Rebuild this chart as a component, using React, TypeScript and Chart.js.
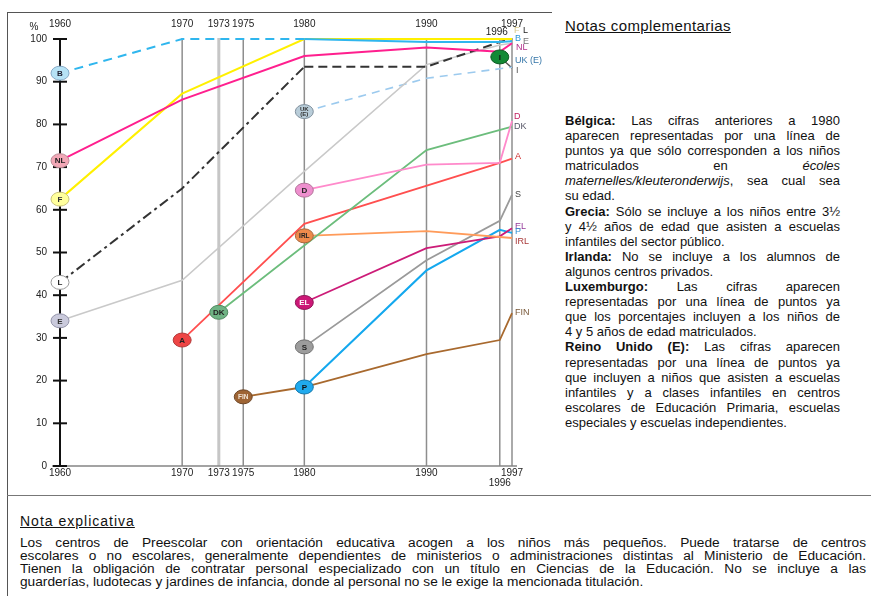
import React, { useEffect, useRef } from "react";
import { Chart, registerables } from "chart.js";

Chart.register(...registerables);

// ---------- data ----------
const years = [1960, 1970, 1973, 1975, 1980, 1990, 1996, 1997];
const guideYears = [1970, 1973, 1975, 1980, 1990, 1996, 1997];
const topYearLabels = [1960, 1970, 1973, 1975, 1980, 1990, 1997];
const bottomYearLabels = [1960, 1970, 1973, 1975, 1980, 1990, 1997];
const lowerYearLabel = 1996;
const yTicks = [0, 10, 20, 30, 40, 50, 60, 70, 80, 90, 100];

const countries = ["B", "NL", "F", "L", "E", "UK(E)", "I", "D", "DK", "A", "IRL", "EL", "S", "P", "FIN"];
const endLabels = ["B", "NL", "F", "L", "E", "UK (E)", "I", "D", "DK", "A", "IRL", "EL", "S", "P", "FIN"];
const endLabelValues = [100.2, 97.9, 102, 102, 99.3, 95, 92.7, 81.8, 79.6, 72.5, 52.6, 56, 63.5, 54.8, 36];

const valB = [92, 100, null, null, 100, 99.3, 99.3, 99.5];
const valNL = [71.5, 85.8, null, null, 96, 98, 97, 99];
const valF = [62.5, 87.2, null, null, 100, 100, 100, 100];
const valL = [43, 65, null, null, 93.5, 93.5, 99.3, 100];
const valE = [34, 43.5, null, null, 69, 94, 98.6, 99];
const valUK = [null, null, null, null, 83, 90.8, null, 93.4];
const valI = [null, null, null, null, null, null, 95.8, 93.2];
const valD = [null, null, null, null, 64.6, 70.6, 71, 80.8];
const valDK = [null, null, 36, null, null, 74, null, 79.5];
const valA = [null, 29.5, null, null, 56.7, null, 71, 72];
const valIRL = [null, null, null, null, 53.9, 55, null, 53.4];
const valEL = [null, null, null, null, 38.3, 51, 53.8, 55.7];
const valS = [null, null, null, null, 27.9, 48.2, 57.4, 63.5];
const valP = [null, null, null, null, 18.5, 45.8, 55.3, 54.6];
const valFIN = [null, null, null, 16.2, 18.5, 26.2, 29.5, 35.8];

const seriesValues = [valB, valNL, valF, valL, valE, valUK, valI, valD, valDK, valA, valIRL, valEL, valS, valP, valFIN];

// ---------- styles ----------
type Sty = { line: string; width: number; dash?: number[]; dashAfter?: number[]; dashUntil?: number; fill: string; ring: string; text: string; label: string; lx: number };
const styles: Record<string, Sty> = {
  B: { line: "#2fb6ee", width: 2, dash: [9, 6], dashAfter: [], dashUntil: 1980, fill: "#b6e2f5", ring: "#86a9c6", text: "#223", label: "#2a96d6", lx: 3 },
  NL: { line: "#ff1f8e", width: 2, fill: "#f2a7b6", ring: "#b98a95", text: "#222", label: "#b0308a", lx: 4 },
  F: { line: "#fff000", width: 2, fill: "#ffff9c", ring: "#c8c27a", text: "#333", label: "#d8c98a", lx: 2 },
  L: { line: "#333333", width: 2, dash: [10, 4, 3, 4], dashAfter: [9, 5], dashUntil: 1980, fill: "#ffffff", ring: "#9a9a9a", text: "#222", label: "#222", lx: 11 },
  E: { line: "#c9c9c9", width: 1.5, fill: "#cacadc", ring: "#9292a8", text: "#333", label: "#777", lx: 11 },
  "UK(E)": { line: "#9ccaee", width: 1.6, dash: [8, 6], fill: "#b9cdd9", ring: "#7f8f9c", text: "#333", label: "#3576a8", lx: 3 },
  I: { line: "#555555", width: 1.5, fill: "#128a36", ring: "#0d5a24", text: "#111", label: "#555", lx: 4 },
  D: { line: "#ff8acb", width: 1.8, fill: "#ee8fce", ring: "#b27399", text: "#222", label: "#c22060", lx: 2 },
  DK: { line: "#6cbd7c", width: 1.8, fill: "#6fb384", ring: "#4f8a60", text: "#222", label: "#556", lx: 2 },
  A: { line: "#ff4f4f", width: 1.8, fill: "#ee4545", ring: "#b23a3a", text: "#222", label: "#cc2a2a", lx: 3 },
  IRL: { line: "#ff9b5a", width: 1.8, fill: "#ee8a4c", ring: "#a8663a", text: "#222", label: "#a83838", lx: 3 },
  EL: { line: "#cc1c78", width: 1.8, fill: "#cc1877", ring: "#8f1556", text: "#fff", label: "#953a9a", lx: 3 },
  S: { line: "#9a9a9a", width: 1.8, fill: "#9c9c9c", ring: "#707070", text: "#222", label: "#444", lx: 3 },
  P: { line: "#14a8ee", width: 2, fill: "#20aaee", ring: "#1577aa", text: "#111", label: "#2f8fd0", lx: 3 },
  FIN: { line: "#a8692e", width: 1.8, fill: "#9e6434", ring: "#6d4524", text: "#f3e6d8", label: "#7a5a3a", lx: 3 },
};

const overlayPlugin = {
  id: "overlay",
  beforeDatasetsDraw(chart: any) {
    const { ctx, scales } = chart;
    const x = scales.x;
    const y = scales.y;
    const top = y.getPixelForValue(100);
    const y0 = y.getPixelForValue(0);
    ctx.save();
    guideYears.forEach((yr) => {
      const px = x.getPixelForValue(yr);
      ctx.strokeStyle = yr === 1973 ? "#c6c6c6" : "#8e8e8e";
      ctx.lineWidth = yr === 1973 ? 3 : 1.5;
      ctx.beginPath();
      ctx.moveTo(px, top - 1);
      ctx.lineTo(px, y0);
      ctx.stroke();
    });
    const x0 = x.getPixelForValue(1960);
    ctx.strokeStyle = "#858585";
    ctx.lineWidth = 1.5;
    ctx.beginPath();
    ctx.moveTo(x0 - 8, y0);
    ctx.lineTo(x.getPixelForValue(1997) + 5, y0);
    ctx.stroke();
    ctx.strokeStyle = "#111";
    ctx.lineWidth = 2;
    ctx.beginPath();
    ctx.moveTo(x0, top);
    ctx.lineTo(x0, y0);
    ctx.stroke();
    yTicks.forEach((v) => {
      const py = y.getPixelForValue(v);
      ctx.beginPath();
      ctx.moveTo(x0 - 7, py);
      ctx.lineTo(x0 + 7, py);
      ctx.stroke();
    });
    ctx.restore();
  },
  afterDatasetsDraw(chart: any) {
    const { ctx, scales } = chart;
    const x = scales.x;
    const y = scales.y;
    ctx.save();
    // markers
    countries.forEach((c, i) => {
      const vals = seriesValues[i];
      const idx = vals.findIndex((v) => v !== null);
      const el = chart.getDatasetMeta(i).data[idx];
      const s = styles[c];
      ctx.beginPath();
      ctx.ellipse(el.x, el.y, 9, 7, 0, 0, Math.PI * 2);
      ctx.fillStyle = s.fill;
      ctx.fill();
      ctx.strokeStyle = s.ring;
      ctx.lineWidth = 1;
      ctx.stroke();
      ctx.fillStyle = s.text;
      ctx.textAlign = "center";
      ctx.textBaseline = "middle";
      if (c === "UK(E)") {
        ctx.font = "bold 6px 'Liberation Sans', Arial, sans-serif";
        ctx.fillText("UK", el.x, el.y - 2.5);
        ctx.fillText("(E)", el.x, el.y + 3);
      } else {
        ctx.font = `bold ${c.length > 2 ? 6.5 : 8}px 'Liberation Sans', Arial, sans-serif`;
        ctx.fillText(c, el.x, el.y + 0.5);
      }
    });
    // end labels at 1997
    const xe = x.getPixelForValue(1997);
    ctx.textAlign = "left";
    ctx.textBaseline = "middle";
    ctx.font = "9px 'Liberation Sans', Arial, sans-serif";
    countries.forEach((c, i) => {
      const s = styles[c];
      ctx.fillStyle = s.label;
      ctx.fillText(endLabels[i], xe + s.lx, y.getPixelForValue(endLabelValues[i]));
    });
    // y tick labels
    const x0 = x.getPixelForValue(1960);
    ctx.fillStyle = "#222";
    ctx.font = "10px 'Liberation Sans', Arial, sans-serif";
    ctx.textAlign = "right";
    yTicks.forEach((v) => {
      ctx.fillText(String(v), x0 - 13, y.getPixelForValue(v));
    });
    ctx.textAlign = "center";
    ctx.fillText("%", x0 - 26, y.getPixelForValue(100) - 12);
    // year labels
    const topY = y.getPixelForValue(100) - 15;
    topYearLabels.forEach((yr) => ctx.fillText(String(yr), x.getPixelForValue(yr), topY));
    ctx.fillText(String(lowerYearLabel), x.getPixelForValue(lowerYearLabel) - 3, topY + 8);
    const botY = y.getPixelForValue(0) + 7;
    bottomYearLabels.forEach((yr) => ctx.fillText(String(yr), x.getPixelForValue(yr), botY));
    ctx.fillText(String(lowerYearLabel), x.getPixelForValue(lowerYearLabel), botY + 10);
    ctx.restore();
  },
};

const rightNotes: { parts: [string, string][]; just: boolean }[] = [
  { parts: [["b", "Bélgica:"], ["n", " Las cifras anteriores a 1980"]], just: true },
  { parts: [["n", "aparecen representadas por una línea de"]], just: true },
  { parts: [["n", "puntos ya que sólo corresponden a los niños"]], just: true },
  { parts: [["n", "matriculados en "], ["i", "écoles"]], just: true },
  { parts: [["i", "maternelles/kleuteronderwijs"], ["n", ", sea cual sea"]], just: true },
  { parts: [["n", "su edad."]], just: false },
  { parts: [["b", "Grecia:"], ["n", " Sólo se incluye a los niños entre 3½"]], just: true },
  { parts: [["n", "y 4½ años de edad que asisten a escuelas"]], just: true },
  { parts: [["n", "infantiles del sector público."]], just: false },
  { parts: [["b", "Irlanda:"], ["n", " No se incluye a los alumnos de"]], just: true },
  { parts: [["n", "algunos centros privados."]], just: false },
  { parts: [["b", "Luxemburgo:"], ["n", " Las cifras aparecen"]], just: true },
  { parts: [["n", "representadas por una línea de puntos ya"]], just: true },
  { parts: [["n", "que los porcentajes incluyen a los niños de"]], just: true },
  { parts: [["n", "4 y 5 años de edad matriculados."]], just: false },
  { parts: [["b", "Reino Unido (E):"], ["n", " Las cifras aparecen"]], just: true },
  { parts: [["n", "representadas por una línea de puntos ya"]], just: true },
  { parts: [["n", "que incluyen a niños que asisten a escuelas"]], just: true },
  { parts: [["n", "infantiles y a clases infantiles en centros"]], just: true },
  { parts: [["n", "escolares de Educación Primaria, escuelas"]], just: true },
  { parts: [["n", "especiales y escuelas independientes."]], just: false },
];

const bottomNotes = [
  "Los centros de Preescolar con orientación educativa acogen a los niños más pequeños. Puede tratarse de centros",
  "escolares o no escolares, generalmente dependientes de ministerios o administraciones distintas al Ministerio de Educación.",
  "Tienen la obligación de contratar personal especializado con un título en Ciencias de la Educación. No se incluye a las",
  "guarderías, ludotecas y jardines de infancia, donde al personal no se le exige la mencionada titulación.",
];

export default function App() {
  const canvasRef = useRef<HTMLCanvasElement | null>(null);

  useEffect(() => {
    const canvas = canvasRef.current;
    if (!canvas) return;
    const datasets = countries.map((c, i) => {
      const s = styles[c];
      const vals = seriesValues[i];
      const ds: any = {
        label: c,
        data: years.map((yr, k) => ({ x: yr, y: vals[k] })),
        borderColor: s.line,
        borderWidth: s.width,
        pointRadius: 0,
        pointHoverRadius: 0,
        spanGaps: true,
        fill: false,
        tension: 0,
        clip: false,
      };
      if (s.dash && s.dashUntil) {
        const d = s.dash;
        const after = s.dashAfter || [];
        const until = s.dashUntil;
        ds.segment = { borderDash: (ctx: any) => (ctx.p1.parsed.x <= until ? d : after) };
      } else if (s.dash) {
        ds.borderDash = s.dash;
      }
      return ds;
    });
    const chart = new Chart(canvas, {
      type: "line",
      data: { datasets },
      options: {
        animation: false,
        responsive: false,
        events: [],
        layout: { padding: { left: 60, right: 48, top: 39, bottom: 34 } },
        plugins: { legend: { display: false }, tooltip: { enabled: false } },
        scales: {
          x: { type: "linear", min: 1960, max: 1997, display: false },
          y: { type: "linear", min: 0, max: 100, display: false },
        },
      },
      plugins: [overlayPlugin],
    } as any);
    return () => chart.destroy();
  }, []);

  const font = "'Liberation Sans', Arial, sans-serif";
  return (
    <div style={{ position: "absolute", left: 0, top: 0, width: 871, height: 596, background: "#fff", overflow: "hidden", fontFamily: font, color: "#111" }}>
      <canvas ref={canvasRef} width={560} height={500} style={{ position: "absolute", left: 0, top: 0, width: 560, height: 500 }} />
      <div style={{ position: "absolute", left: 7, top: 12, width: 545, height: 0, borderTop: "1px solid #555" }} />
      <div style={{ position: "absolute", left: 7, top: 12, width: 0, height: 590, borderLeft: "1px solid #555" }} />
      <div style={{ position: "absolute", left: 7, top: 495, width: 870, height: 0, borderTop: "1px solid #777" }} />
      <div style={{ position: "absolute", left: 565, top: 17, fontSize: 15, letterSpacing: 0.4, textDecoration: "underline", whiteSpace: "nowrap" }}>
        Notas complementarias
      </div>
      <div style={{ position: "absolute", left: 565, top: 113, width: 275, fontSize: 13, lineHeight: "15.1px" }}>
        {rightNotes.map((ln, i) => (
          <div key={i} style={{ textAlign: ln.just ? "justify" : "left", textAlignLast: ln.just ? "justify" : "left", whiteSpace: "nowrap" }}>
            {ln.parts.map(([k, t], j) =>
              k === "b" ? <b key={j}>{t}</b> : k === "i" ? <i key={j}>{t}</i> : <span key={j}>{t}</span>
            )}
          </div>
        ))}
      </div>
      <div style={{ position: "absolute", left: 20, top: 513, fontSize: 14, letterSpacing: 1, textDecoration: "underline", whiteSpace: "nowrap" }}>
        Nota explicativa
      </div>
      <div style={{ position: "absolute", left: 20, top: 535.5, width: 846, fontSize: 13.7, lineHeight: "13.3px" }}>
        {bottomNotes.map((t, i) => (
          <div key={i} style={{ textAlign: "justify", textAlignLast: i < bottomNotes.length - 1 ? "justify" : "left", whiteSpace: "nowrap" }}>
            {t}
          </div>
        ))}
      </div>
    </div>
  );
}
